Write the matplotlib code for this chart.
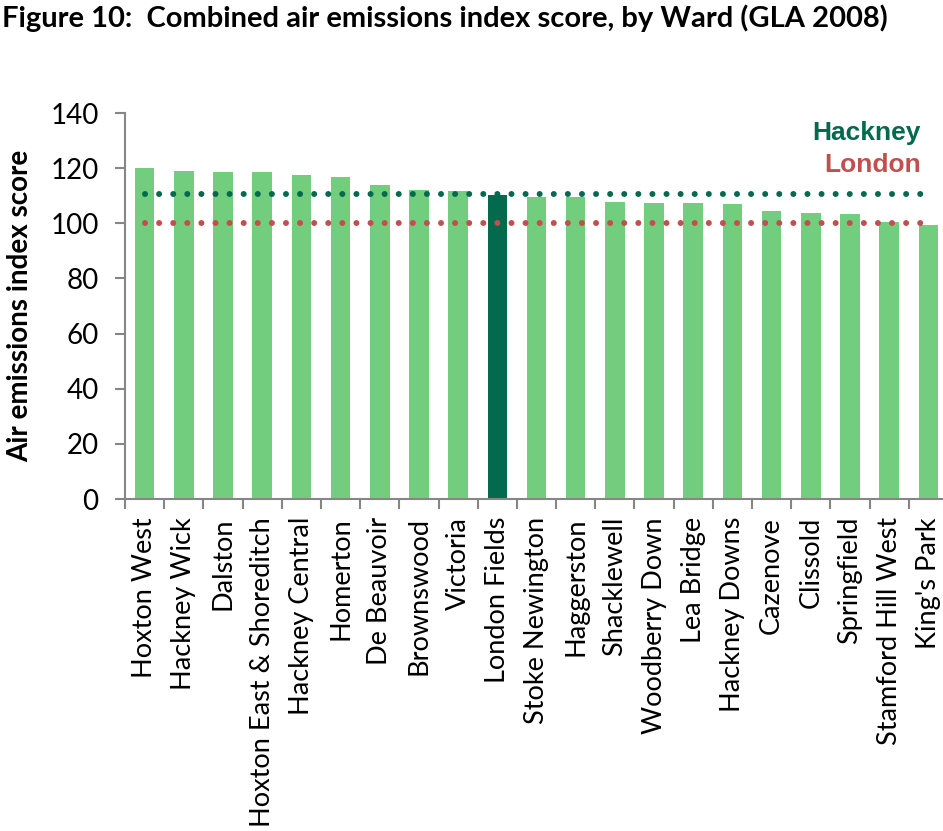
import numpy as np
import matplotlib
matplotlib.use("Agg")
import matplotlib.pyplot as plt
from matplotlib.ticker import FixedLocator

# ward scores
wards = ["Hoxton West", "Hackney Wick", "Dalston", "Hoxton East & Shoreditch",
         "Hackney Central", "Homerton", "De Beauvoir", "Brownswood", "Victoria",
         "London Fields", "Stoke Newington", "Haggerston", "Shacklewell",
         "Woodberry Down", "Lea Bridge", "Hackney Downs", "Cazenove", "Clissold",
         "Springfield", "Stamford Hill West", "King's Park"]
scores = [120.1, 119.0, 118.6, 118.6, 117.5, 116.9, 113.9, 112.2, 111.8,
          110.4, 109.6, 109.6, 107.9, 107.5, 107.4, 107.1, 104.6, 103.8,
          103.5, 100.5, 99.5]
highlight = "London Fields"
hackney_avg = 110.5
london_avg = 100.0
yticks = [0, 20, 40, 60, 80, 100, 120, 140]

light = "#73CD7E"
dark = "#036A4E"
red = "#C0504D"
axis_grey = "#868686"
font = "Lato"

fig = plt.figure(figsize=(9.43, 8.31), dpi=100)
ax = fig.add_axes([125/943, 332/831, 823/943, 386/831])

x = np.arange(len(wards))
cols = [dark if w == highlight else light for w in wards]
ax.bar(x, scores, width=0.5, color=cols, zorder=2)

# average lines, drawn as round dots
xs = [x[0], x[-1]]
dots = (0, (0.01, 2.35))
ax.plot(xs, [hackney_avg]*2, color=dark, lw=4.3, linestyle=dots,
        dash_capstyle="round", zorder=3)
ax.plot(xs, [london_avg]*2, color=red, lw=4.3, linestyle=dots,
        dash_capstyle="round", zorder=3)

ax.set_xlim(-0.5, len(wards) - 0.5)
ax.set_ylim(0, 140)
ax.set_yticks(yticks)
ax.set_yticklabels([str(v) for v in yticks], fontsize=20, family=font)
ax.set_xticks(x)
ax.set_xticklabels(wards, rotation=90, fontsize=19.5, family=font)
ax.xaxis.set_minor_locator(FixedLocator(np.arange(len(wards) + 1) - 0.5))
ax.tick_params(axis="x", which="major", length=0, pad=13)
ax.tick_params(axis="x", which="minor", length=7, width=1.5, color=axis_grey, direction="out")
ax.tick_params(axis="y", length=7, width=1.5, color=axis_grey, direction="out", pad=12)

for s in ["top", "right"]:
    ax.spines[s].set_visible(False)
for s in ["left", "bottom"]:
    ax.spines[s].set_color(axis_grey)
    ax.spines[s].set_linewidth(1.5)

ax.set_ylabel("Air emissions index score", fontsize=20, fontweight="bold", family=font, labelpad=12)

fig.text(921/943, 1 - 133/831, "Hackney", color=dark, fontsize=19, fontweight="bold",
         family="Liberation Sans", ha="right", va="center")
fig.text(921/943, 1 - 165/831, "London", color=red, fontsize=19, fontweight="bold",
         family="Liberation Sans", ha="right", va="center")

fig.text(2/943, 1 - 18/831, "Figure 10:  Combined air emissions index score, by Ward (GLA 2008)",
         fontsize=21, fontweight="bold", family=font, ha="left", va="center")

fig.savefig("out.png", dpi=100)
